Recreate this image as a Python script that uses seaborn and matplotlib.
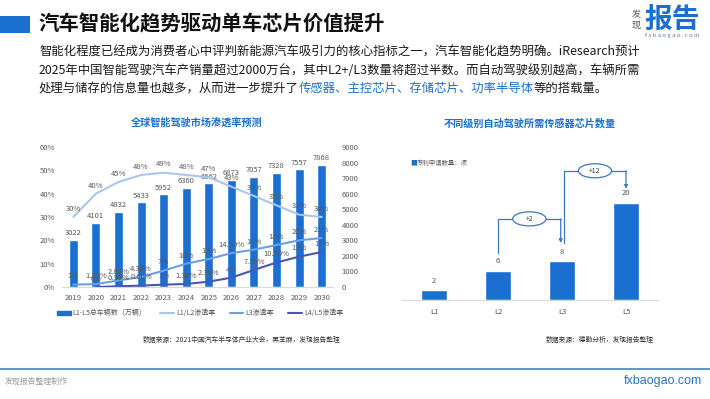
import numpy as np
import pandas as pd
import matplotlib.pyplot as plt
import seaborn as sns
from matplotlib.patches import Rectangle, Ellipse, Patch
from matplotlib.lines import Line2D

# ---- data ----
years = ['2019', '2020', '2021', '2022', '2023', '2024', '2025', '2026', '2027', '2028', '2029', '2030']
total_vehicles = [3022, 4101, 4832, 5433, 5952, 6360, 6662, 6873, 7057, 7328, 7557, 7868]
l12_rate = [30, 40, 45, 48, 49, 48, 47, 43, 39, 35, 31, 30]
l3_rate = [1, 1.25, 2.8, 4.3, 7, 10, 12, 14.5, 16, 18, 20, 21]
l45_rate = [np.nan, 0, 0.3, 0.6, 1, 1.3, 2.3, 4, 7.3, 10.5, 13, 15]

levels = ['L1', 'L2', 'L3', 'L5']
sensor_chips = [2, 6, 8, 20]

bar_blue = '#1b6fd1'
title_blue = '#1a6fd0'
line_cols = {'L1/L2渗透率': '#a9c7ee', 'L3渗透率': '#6d9fe4', 'L4/L5渗透率': '#4b58b3'}
grey = '#595959'

sns.set_theme(style="white")
plt.rcParams['font.family'] = ['Noto Sans CJK SC', 'DejaVu Sans']
plt.rcParams['axes.unicode_minus'] = False

W, H = 710, 399
fig = plt.figure(figsize=(7.1, 3.99), dpi=100)


def fx(px):
    return px / W


def fy(py):
    return 1 - py / H


def pct(v):
    return f'{v:.0f}%' if float(v).is_integer() else f'{v:.2f}%'


# ---- header ----
fig.add_artist(Rectangle((0, fy(33)), fx(30), 17 / H, transform=fig.transFigure,
                         color=title_blue, lw=0))
fig.text(fx(38), fy(24), '汽车智能化趋势驱动单车芯片价值提升', fontsize=14.7,
         fontweight='bold', color='#111111', va='center')
fig.text(fx(700), fy(20), '报告', fontsize=20, fontweight='bold', color=title_blue,
         ha='right', va='center')
fig.text(fx(636), fy(15), '发', fontsize=6.5, color='#555555', ha='center', va='center')
fig.text(fx(636), fy(25), '现', fontsize=6.5, color='#555555', ha='center', va='center')
fig.text(fx(672), fy(36), 'f x b a o g a o . c o m', fontsize=4.3, color='#5f7ea8',
         ha='center', va='center')

para_fs = 8.9
fig.text(fx(39), fy(52), '智能化程度已经成为消费者心中评判新能源汽车吸引力的核心指标之一，汽车智能化趋势明确。iResearch预计',
         fontsize=para_fs, color='#1a1a1a', va='center')
fig.text(fx(39), fy(70), '2025年中国智能驾驶汽车产销量超过2000万台，其中L2+/L3数量将超过半数。而自动驾驶级别越高，车辆所需',
         fontsize=para_fs, color='#1a1a1a', va='center')
renderer = fig.canvas.get_renderer()
x = fx(39)
for s, c in [('处理与储存的信息量也越多，从而进一步提升了', '#1a1a1a'),
             ('传感器、主控芯片、存储芯片、功率半导体', title_blue),
             ('等的搭载量。', '#1a1a1a')]:
    t = fig.text(x, fy(88), s, fontsize=para_fs, color=c, fontweight='medium', va='center')
    x += t.get_window_extent(renderer=renderer).width / fig.bbox.width

# ---- left chart: market penetration ----
fig.text(fx(197), fy(123), '全球智能驾驶市场渗透率预测', fontsize=7.3, fontweight='bold',
         color=title_blue, ha='center', va='center')

pos = list(range(len(years)))
ax1 = fig.add_axes([fx(62), fy(287), fx(271), 140 / H])
bars = pd.DataFrame({'pos': pos, 'total': total_vehicles})
sns.barplot(data=bars, x='pos', y='total', native_scale=True, width=0.4,
            color=bar_blue, saturation=1, ax=ax1)
ax1.set_xlim(-0.5, len(years) - 0.5)
ax1.set_ylim(0, 9000)
ax1.set_yticks(range(0, 9001, 1000))
ax1.set_xticks(pos, years)
for i, v in zip(pos, total_vehicles):
    ax1.annotate(str(v), (i, v), xytext=(0, 2), textcoords='offset points',
                 ha='center', va='bottom', fontsize=5.5, color=grey)

ax2 = ax1.twinx()
rates = pd.DataFrame({'pos': pos, 'L1/L2渗透率': l12_rate, 'L3渗透率': l3_rate,
                      'L4/L5渗透率': l45_rate})
rates_long = rates.melt(id_vars='pos', var_name='series', value_name='rate').dropna()
sns.lineplot(data=rates_long, x='pos', y='rate', hue='series', palette=line_cols,
             linewidth=1.5, legend=False, ax=ax2)
ax2.set_ylim(0, 60)
ax2.set_yticks(range(0, 61, 10))
ax2.set_yticklabels([f'{v}%' for v in range(0, 61, 10)])
for name in line_cols:
    for i, v in zip(pos, rates[name]):
        if np.isnan(v):
            continue
        ax2.annotate(pct(v), (i, v), xytext=(0, 3), textcoords='offset points',
                     ha='center', va='bottom', fontsize=5.5, color=grey)

ax1.yaxis.tick_right()
ax2.yaxis.tick_left()
for a in (ax1, ax2):
    a.set_xlabel('')
    a.set_ylabel('')
    for sp in a.spines.values():
        sp.set_visible(False)
    a.tick_params(length=0, labelsize=5.5, labelcolor=grey)
ax1.spines['bottom'].set_visible(True)
ax1.spines['bottom'].set_color('#d9d9d9')
ax1.spines['bottom'].set_linewidth(0.8)
ax1.tick_params(axis='x', pad=5)
ax1.tick_params(axis='y', pad=6)
ax2.tick_params(axis='y', pad=5)

handles = [Patch(color=bar_blue)] + [Line2D([], [], color=c, lw=1.5) for c in line_cols.values()]
labels = ['L1-L5总车辆数（万辆）'] + list(line_cols)
fig.legend(handles, labels, loc='center', bbox_to_anchor=(fx(200), fy(313)), ncol=4,
           frameon=False, fontsize=5, labelcolor=grey, handlelength=2,
           handleheight=0.5, handletextpad=0.3, columnspacing=2)
fig.text(fx(242), fy(340), '数据来源：2021中国汽车半导体产业大会，黑芝麻，发现报告整理',
         fontsize=4.9, color='#333333', ha='center', va='center')

# ---- right chart: sensor chips ----
fig.text(fx(530), fy(123), '不同级别自动驾驶所需传感器芯片数量', fontsize=7.3,
         fontweight='bold', color=title_blue, ha='center', va='center')

lv_pos = list(range(len(levels)))
ax3 = fig.add_axes([fx(402), fy(300), fx(256), 136 / H])
sensors = pd.DataFrame({'pos': lv_pos, 'chips': sensor_chips})
sns.barplot(data=sensors, x='pos', y='chips', native_scale=True, width=0.4,
            color=bar_blue, saturation=1, ax=ax3)
ax3.set_xlim(-0.5, len(levels) - 0.5)
ax3.set_ylim(0, 28)
ax3.set_xticks(lv_pos, levels)
ax3.set_yticks([])
ax3.set_xlabel('')
ax3.set_ylabel('')
for sp in ax3.spines.values():
    sp.set_visible(False)
ax3.spines['bottom'].set_visible(True)
ax3.spines['bottom'].set_color('#d9d9d9')
ax3.spines['bottom'].set_linewidth(0.8)
ax3.tick_params(length=0, labelsize=5.5, labelcolor=grey, pad=6)
for i, v in zip(lv_pos, sensor_chips):
    ax3.annotate(str(v), (i, v), xytext=(0, 4), textcoords='offset points',
                 ha='center', va='bottom', fontsize=5.5, color=grey)

ann_col = '#3f76c2'


def bracket(x0, y0, x1, y1, top, label):
    ax3.plot([x0, x0, x1], [y0, top, top], color=ann_col, lw=0.9, clip_on=False)
    ax3.annotate('', xy=(x1, y1), xytext=(x1, top),
                 arrowprops=dict(arrowstyle='-|>', color=ann_col, lw=0.9,
                                 mutation_scale=5, shrinkA=0, shrinkB=0),
                 annotation_clip=False)
    xm = (x0 + x1) / 2
    ax3.add_patch(Ellipse((xm, top), 0.52, 2.9, facecolor='white', edgecolor=ann_col,
                          lw=0.9, zorder=3, clip_on=False))
    ax3.text(xm, top, label, fontsize=5, color='#333333', ha='center', va='center',
             zorder=4)


bracket(1, sensor_chips[1] + 3.7, 1.98, sensor_chips[2] + 3.75, 16.7,
        f'+{sensor_chips[2] - sensor_chips[1]}')
bracket(2.03, sensor_chips[2] + 3.75, 3, sensor_chips[3] + 2.9, 26.6,
        f'+{sensor_chips[3] - sensor_chips[2]}')

fig.text(fx(410), fy(163), '■', fontsize=5, color=bar_blue, ha='left', va='center')
fig.text(fx(417), fy(163), '专利申请数量：项', fontsize=4.6, color=grey, ha='left', va='center')
fig.text(fx(600), fy(340), '数据来源：德勤分析，发现报告整理', fontsize=4.9,
         color='#333333', ha='center', va='center')

# ---- footer ----
fig.add_artist(Line2D([0, 1], [fy(369), fy(369)], transform=fig.transFigure,
                      color='#5b98d6', lw=1.5))
fig.text(fx(5), fy(381), '发现报告整理制作', fontsize=5.7, color='#9a9a9a', va='center')
fig.text(fx(702), fy(381), 'fxbaogao.com', fontsize=9, color='#2a72c9', ha='right',
         va='center', family=['Liberation Sans', 'DejaVu Sans'])

fig.savefig('out.png', dpi=100)
